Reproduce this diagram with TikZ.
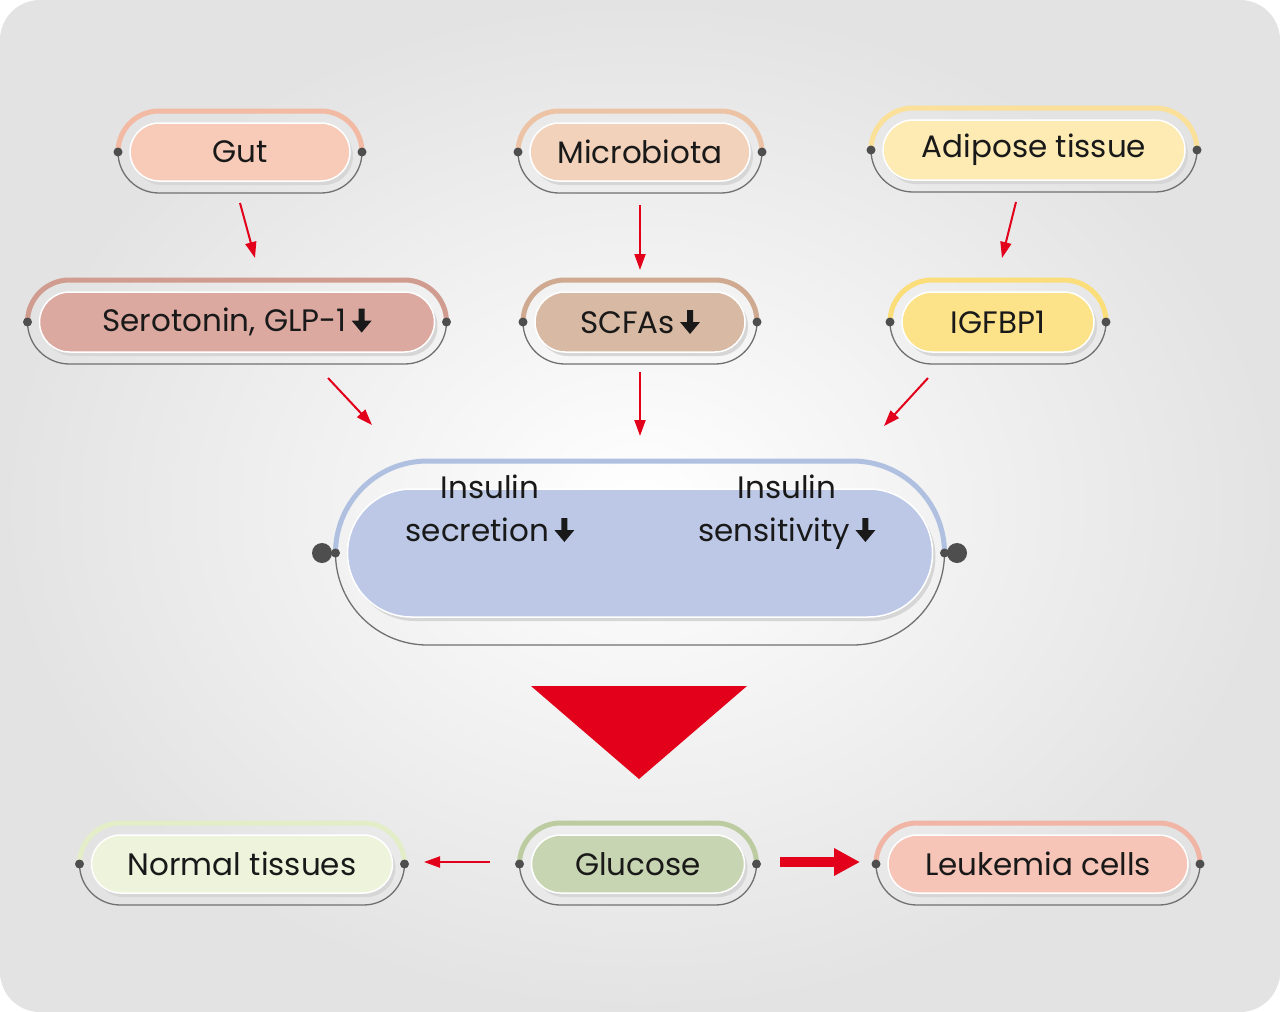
\documentclass[tikz,border=0pt]{standalone}
\usepackage{fontspec}
\setmainfont{Poppins}
\usetikzlibrary{arrows.meta}
\definecolor{red1}{HTML}{E2001A}
\definecolor{gr}{HTML}{707070}
\definecolor{gutF}{HTML}{F8CBB8}\definecolor{gutT}{HTML}{F2B9A3}
\definecolor{micF}{HTML}{F2D2BA}\definecolor{micT}{HTML}{EDC3A6}
\definecolor{adiF}{HTML}{FDEBB3}\definecolor{adiT}{HTML}{FBE09A}
\definecolor{serF}{HTML}{DBA9A0}\definecolor{serT}{HTML}{D19C90}
\definecolor{scfF}{HTML}{D8B9A3}\definecolor{scfT}{HTML}{CFAA90}
\definecolor{igfF}{HTML}{FCE38A}\definecolor{igfT}{HTML}{FBDD7A}
\definecolor{insF}{HTML}{BCC8E5}\definecolor{insT}{HTML}{AFC0E0}
\definecolor{norF}{HTML}{EEF3DC}\definecolor{norT}{HTML}{E3EDC8}
\definecolor{gluF}{HTML}{C8D5B2}\definecolor{gluT}{HTML}{BCCCA0}
\definecolor{leuF}{HTML}{F6C5B8}\definecolor{leuT}{HTML}{F0B5A5}
\newcommand\dn{\,\tikz[baseline=0pt,x=1pt,y=1pt]{\fill (-3,23)--(3,23)--(3,11)--(10,11)--(0,-1)--(-10,11)--(-3,11)--cycle;}}
% \pill{name}{cx}{cy}{iw}{ih}{fill}{top}{text}{extra outer h}
\newcommand\pill[9]{%
 \pgfmathsetmacro\pL{#2-#4/2-12}\pgfmathsetmacro\pR{#2+#4/2+12}\pgfmathsetmacro\rad{#5/2+#9}%
 \pgfmathsetmacro\pT{#3-\rad}\pgfmathsetmacro\pB{#3+\rad}%
 \pgfmathsetmacro\rb{\pR-\rad}%
 \draw[#7,line width=5pt] (\pL,#3) arc[start angle=180,end angle=270,radius=\rad] -- (\rb,\pT) arc[start angle=270,end angle=360,radius=\rad];
 \draw[gr,line width=1.3pt] (\pL,#3) arc[start angle=180,end angle=90,radius=\rad] -- (\rb,\pB) arc[start angle=90,end angle=0,radius=\rad];
 \node[pillshape,minimum width=#4*1pt,minimum height=#5*1pt,rounded corners=#5/2*1pt,fill=black!16,draw=none] at (#2+3,#3+4) {};
 \node[pillshape,minimum width=#4*1pt,minimum height=#5*1pt,rounded corners=#5/2*1pt,fill=#6] (#1) at (#2,#3) {};
 \node[lab] at (#1) {#8};
 \fill[gr!70!black] (\pL,#3) circle[radius=4.5];
 \fill[gr!70!black] (\pR,#3) circle[radius=4.5];
}
\begin{document}
\begin{tikzpicture}[x=1pt,y=-1pt,
 pillshape/.style={rectangle,draw=white,line width=1.5pt,inner sep=0pt},
 lab/.style={font=\fontsize{31}{43}\selectfont,text=black!90,align=center},
 ar/.style={red1,line width=2pt,-{Triangle[length=16pt,width=11pt]}}]
\useasboundingbox (0,0) rectangle (1280,1012);
\shade[inner color=white,outer color=black!11,rounded corners=40pt] (0,0) rectangle (1280,1012);
\pill{gut}{240}{152}{220}{58}{gutF}{gutT}{Gut}{12}
\pill{mic}{640}{152}{220}{58}{micF}{micT}{Microbiota}{12}
\pill{adi}{1034}{150}{302}{60}{adiF}{adiT}{Adipose tissue}{12}
\pill{ser}{237}{322}{395}{60}{serF}{serT}{Serotonin, GLP-1\dn}{12}
\pill{scf}{640}{322}{210}{60}{scfF}{scfT}{SCFAs\dn}{12}
\pill{igf}{998}{322}{192}{60}{igfF}{igfT}{IGFBP1}{12}
\pill{ins}{640}{553}{585}{128}{insF}{insT}{}{28}
\fill[gr!70!black] (322,553) circle[radius=10] (957,553) circle[radius=10];
\node[lab,anchor=base] (t1) at (490,541) {Insulin\\secretion\dn};
\node[lab,anchor=base] (t2) at (787,541) {Insulin\\sensitivity\dn};
\pill{nor}{242}{864}{301}{58}{norF}{norT}{Normal tissues}{12}
\pill{glu}{638}{864}{213}{58}{gluF}{gluT}{Glucose}{12}
\pill{leu}{1038}{864}{300}{58}{leuF}{leuT}{Leukemia cells}{12}
\coordinate (a1) at (240,203); \coordinate (b1) at (255,258);
\coordinate (a2) at (640,205); \coordinate (b2) at (640,270);
\coordinate (a3) at (1016,202); \coordinate (b3) at (1002,258);
\coordinate (a4) at (328,378); \coordinate (b4) at (372,425);
\coordinate (a5) at (640,372); \coordinate (b5) at (640,436);
\coordinate (a6) at (928,378); \coordinate (b6) at (884,426);
\coordinate (a7) at (490,862); \coordinate (b7) at (424,862);
\foreach \i in {1,...,7} \draw[ar] (a\i) -- (b\i);
\fill[red1] (531,686) -- (747,686) -- (639,779) -- cycle;
\coordinate (a8) at (780,862); \coordinate (b8) at (860,862);
\draw[red1,line width=10pt,-{Triangle[length=26pt,width=26pt]}] (a8) -- (b8);
\end{tikzpicture}
\end{document}
